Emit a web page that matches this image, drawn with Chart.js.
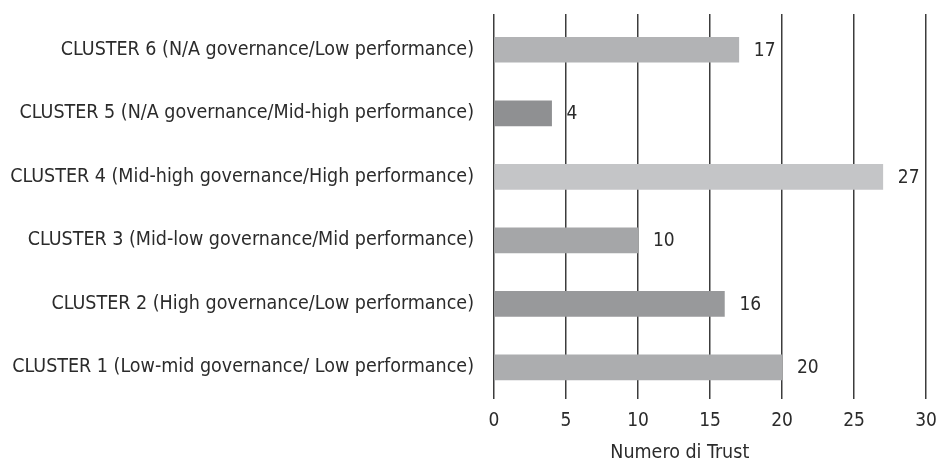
<!DOCTYPE html>
<html>
<head>
<meta charset="utf-8">
<script src="https://cdn.jsdelivr.net/npm/chart.js@4/dist/chart.umd.min.js"></script>
<style>
  html, body { margin: 0; padding: 0; background: #fff; }
  #wrap { width: 941px; height: 467px; }
</style>
</head>
<body>
<div id="wrap"><canvas id="c" width="941" height="467"></canvas></div>
<script>
const categories = [
  'CLUSTER 6 (N/A governance/Low performance)',
  'CLUSTER 5 (N/A governance/Mid-high performance)',
  'CLUSTER 4 (Mid-high governance/High performance)',
  'CLUSTER 3 (Mid-low governance/Mid performance)',
  'CLUSTER 2 (High governance/Low performance)',
  'CLUSTER 1 (Low-mid governance/ Low performance)'
];
const trustCounts = [17, 4, 27, 10, 16, 20];
const barColors = ['#b2b3b5', '#8f9092', '#c4c5c7', '#a5a6a8', '#98999b', '#acadaf'];
const axisTitle = 'Numero di Trust';

const FONT = '"Liberation Sans Narrow", "DejaVu Sans Condensed", "Arial Narrow", sans-serif';
const TEXT = '#2b2b2b';

// value written just past the end of each bar
const valueLabels = {
  id: 'valueLabels',
  afterDatasetsDraw(chart) {
    const ctx = chart.ctx;
    const meta = chart.getDatasetMeta(0);
    ctx.save();
    ctx.font = '19px ' + FONT;
    ctx.fillStyle = TEXT;
    ctx.textBaseline = 'middle';
    ctx.textAlign = 'left';
    meta.data.forEach((bar, i) => {
      ctx.fillText(String(trustCounts[i]), bar.x + 15, bar.y + 1);
    });
    ctx.restore();
  }
};

// axis title under the tick labels, sitting a little left of the plot centre
const axisTitlePlugin = {
  id: 'axisTitlePlugin',
  afterDraw(chart) {
    const ctx = chart.ctx;
    const a = chart.chartArea;
    ctx.save();
    ctx.font = '19.5px ' + FONT;
    ctx.fillStyle = TEXT;
    ctx.textAlign = 'center';
    ctx.textBaseline = 'middle';
    ctx.fillText(axisTitle, a.left + (a.right - a.left) * 0.43, chart.height - 14);
    ctx.restore();
  }
};

new Chart(document.getElementById('c'), {
  type: 'bar',
  data: {
    labels: categories,
    datasets: [{
      data: trustCounts,
      backgroundColor: barColors,
      borderWidth: 0,
      barThickness: 25
    }]
  },
  options: {
    indexAxis: 'y',
    responsive: false,
    animation: false,
    devicePixelRatio: 1,
    layout: { padding: { top: 14, right: 15, bottom: 25, left: 6 } },
    plugins: {
      legend: { display: false },
      tooltip: { enabled: false }
    },
    scales: {
      x: {
        position: 'bottom',
        min: 0,
        max: 30,
        afterFit(scale) { scale.paddingRight = 0; },
        ticks: {
          stepSize: 5,
          color: TEXT,
          font: { family: FONT, size: 19 },
          padding: 10
        },
        grid: {
          color: '#3c3c3c',
          lineWidth: 1.5,
          drawTicks: false
        },
        border: { display: false }
      },
      xTop: {
        position: 'top',
        axis: 'x',
        min: 0,
        max: 30,
        afterFit(scale) { scale.paddingRight = 0; },
        ticks: { stepSize: 5, display: false },
        grid: {
          color: '#3c3c3c',
          lineWidth: 1.5,
          drawOnChartArea: false,
          drawTicks: true,
          tickLength: 4
        },
        border: { display: false }
      },
      y: {
        afterFit(scale) {
          scale.width = 488;
          scale.paddingTop = 0;
          scale.paddingBottom = 0;
        },
        ticks: {
          color: TEXT,
          font: { family: FONT, size: 19.5 },
          padding: 12
        },
        grid: { display: false },
        border: { display: false }
      }
    }
  },
  plugins: [valueLabels, axisTitlePlugin]
});
</script>
</body>
</html>
